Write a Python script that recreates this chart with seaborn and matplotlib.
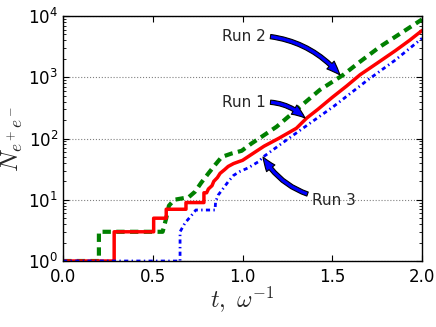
import matplotlib
matplotlib.use("Agg")
import matplotlib.pyplot as plt
import seaborn as sns
import pandas as pd
from matplotlib.ticker import LogLocator, NullFormatter

# Run 1 (red, solid)
run1_t = [0.0, 0.285, 0.285, 0.505, 0.505, 0.575, 0.575, 0.685, 0.685, 0.785, 0.785,
          0.80, 0.81, 0.83, 0.84, 0.86, 0.875, 0.90, 0.92, 0.95, 0.98, 1.0, 1.05, 1.12,
          1.20, 1.30, 1.357, 1.42, 1.50, 1.58, 1.655, 1.75, 1.85, 1.93, 2.0]
run1_n = [1, 1, 3, 3, 5, 5, 7, 7, 9, 9, 13,
          13, 15, 17, 20, 23, 27, 31, 35, 39, 42, 44, 55, 75,
          100, 147, 215, 300, 470, 720, 1100, 1700, 2700, 4000, 5800]

# Run 2 (green, dashed)
run2_t = [0.0, 0.2, 0.2, 0.555, 0.575, 0.59, 0.62, 0.70, 0.735, 0.77, 0.81, 0.847,
          0.884, 0.94, 0.995, 1.05, 1.107, 1.19, 1.32, 1.43, 1.56, 1.655, 1.766, 1.88, 2.0]
run2_n = [1, 1, 3, 3, 5, 8, 10, 11, 13.5, 19, 27, 37,
          50, 57, 63, 83, 107, 156, 330, 620, 1090, 1800, 3160, 5200, 8800]

# Run 3 (blue, dash-dot)
run3_t = [0.0, 0.652, 0.652, 0.68, 0.71, 0.74, 0.847, 0.85, 0.865, 0.893, 0.92, 0.95,
          0.986, 1.03, 1.09, 1.115, 1.246, 1.376, 1.505, 1.69, 1.85, 2.0]
run3_n = [1, 1, 3, 4.2, 5.3, 6.8, 6.8, 9.3, 12, 15.4, 19.7, 25,
          29, 33, 42, 50, 95, 178, 330, 870, 1900, 4330]

labels = ["Run 1", "Run 2", "Run 3"]
x_ticks = [0.0, 0.5, 1.0, 1.5, 2.0]
x_tick_labels = ["0.0", "0.5", "1.0", "1.5", "2.0"]

sns.set_style("ticks")
plt.rcParams.update({
    "xtick.direction": "in", "ytick.direction": "in",
    "xtick.top": True, "ytick.right": True,
    "xtick.major.size": 4, "ytick.major.size": 4,
    "xtick.minor.size": 2, "ytick.minor.size": 2,
    "axes.edgecolor": "black", "axes.linewidth": 1.0,
    "xtick.color": "black", "ytick.color": "black",
    "mathtext.fontset": "cm",
})
plt.rcParams["font.family"] = ["DejaVu Sans"]

fig = plt.figure(figsize=(4.36, 3.27), dpi=100)
ax = fig.add_axes([0.1445, 0.2018, 0.8235, 0.7492])

d1 = pd.DataFrame({"t": run1_t, "N": run1_n})
d2 = pd.DataFrame({"t": run2_t, "N": run2_n})
d3 = pd.DataFrame({"t": run3_t, "N": run3_n})

sns.lineplot(data=d2, x="t", y="N", ax=ax, estimator=None, sort=False,
             color="#008000", linestyle="--", linewidth=3.0)
sns.lineplot(data=d1, x="t", y="N", ax=ax, estimator=None, sort=False,
             color="#ff0000", linestyle="-", linewidth=2.5)
sns.lineplot(data=d3, x="t", y="N", ax=ax, estimator=None, sort=False,
             color="#0000ff", linestyle="-.", linewidth=2.0)
ax.lines[0].set_linestyle((0, (2.0, 1.3)))
ax.lines[2].set_linestyle((0, (1.5, 1.2, 0.5, 1.2)))

ax.set_yscale("log")
ax.set_xlim(0, 2)
ax.set_ylim(1, 1e4)
ax.set_xticks(x_ticks)
ax.set_xticklabels(x_tick_labels, fontsize=12)
ax.yaxis.set_major_locator(LogLocator(base=10, numticks=10))
ax.yaxis.set_minor_locator(LogLocator(base=10, subs=range(2, 10), numticks=20))
ax.yaxis.set_minor_formatter(NullFormatter())
ax.tick_params(axis="y", labelsize=12)
ax.tick_params(axis="x", pad=5)
ax.grid(True, axis="y", which="major", color="gray", linestyle=":", linewidth=0.8)
ax.grid(False, axis="x")

ax.set_xlabel(r"$t,\ \omega^{-1}$", fontsize=17, labelpad=-1)
ax.set_ylabel(r"$N_{e^+e^-}$", fontsize=18, labelpad=2)

arrow = dict(arrowstyle="simple,head_length=0.9,head_width=0.7,tail_width=0.28",
             fc="#0000ff", ec="black", lw=0.8, shrinkA=1, shrinkB=0)
ax.annotate(labels[1], xy=(1.543, 1090), xytext=(1.008, 4710), fontsize=11,
            ha="center", va="center",
            arrowprops=dict(arrow, connectionstyle="arc3,rad=-0.2", relpos=(1.0, 0.5)))
ax.annotate(labels[0], xy=(1.348, 216), xytext=(1.008, 394), fontsize=11,
            ha="center", va="center",
            arrowprops=dict(arrow, connectionstyle="arc3,rad=-0.2", relpos=(1.0, 0.5)))
ax.annotate(labels[2], xy=(1.114, 50), xytext=(1.51, 9.9), fontsize=11,
            ha="center", va="center",
            arrowprops=dict(arrow, connectionstyle="arc3,rad=-0.2", relpos=(0.0, 0.8)))

fig.savefig("out.png", dpi=100)
